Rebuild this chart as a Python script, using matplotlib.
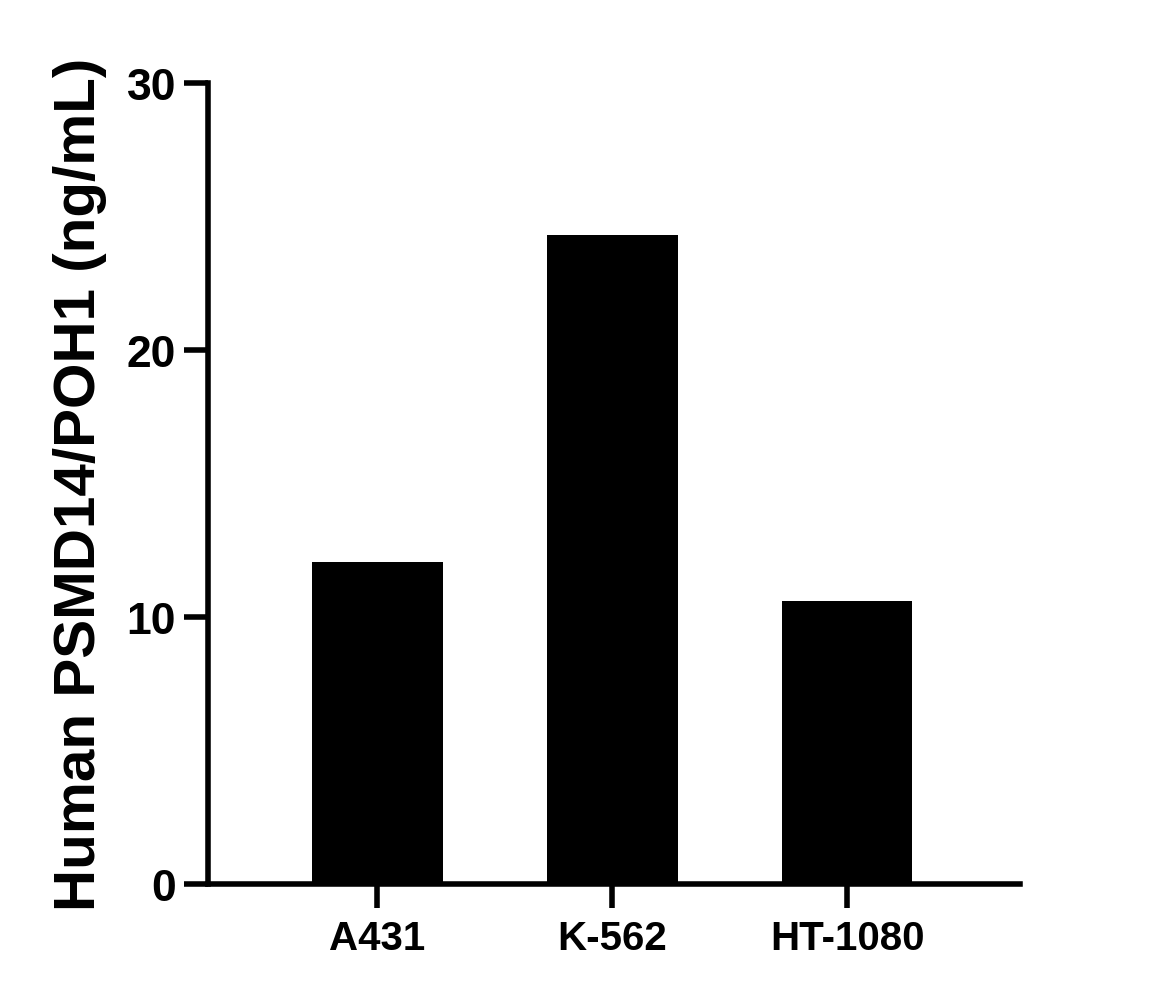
import numpy as np
import matplotlib.pyplot as plt

plt.rcParams['font.family'] = ['Liberation Sans', 'DejaVu Sans']
plt.rcParams['font.weight'] = 'bold'

cells = ["A431", "K-562", "HT-1080"]
conc = [12.05, 24.3, 10.6]   # ng/mL

fig = plt.figure(figsize=(11.52, 10.03), dpi=100)
ax = fig.add_axes([0.1806, 0.1176, 0.7048, 0.7987])

x = np.arange(len(cells))
ax.bar(x, conc, width=0.557, color="black", edgecolor="none")

ax.set_xlim(-0.72, 2.736)
ax.set_ylim(0, 30)
ax.set_yticks([0, 10, 20, 30])
ax.set_xticks(x)
ax.set_xticklabels(cells)

for s in ["top", "right"]:
    ax.spines[s].set_visible(False)
for s in ["left", "bottom"]:
    ax.spines[s].set_linewidth(4)
ax.tick_params(axis="both", width=4, length=17)
ax.tick_params(axis="y", labelsize=32, pad=6)
ax.tick_params(axis="x", labelsize=29, pad=8)

ax.set_ylabel("Human PSMD14/POH1 (ng/mL)", fontsize=42, fontweight="bold", labelpad=14)

fig.savefig("out.png", dpi=100)
